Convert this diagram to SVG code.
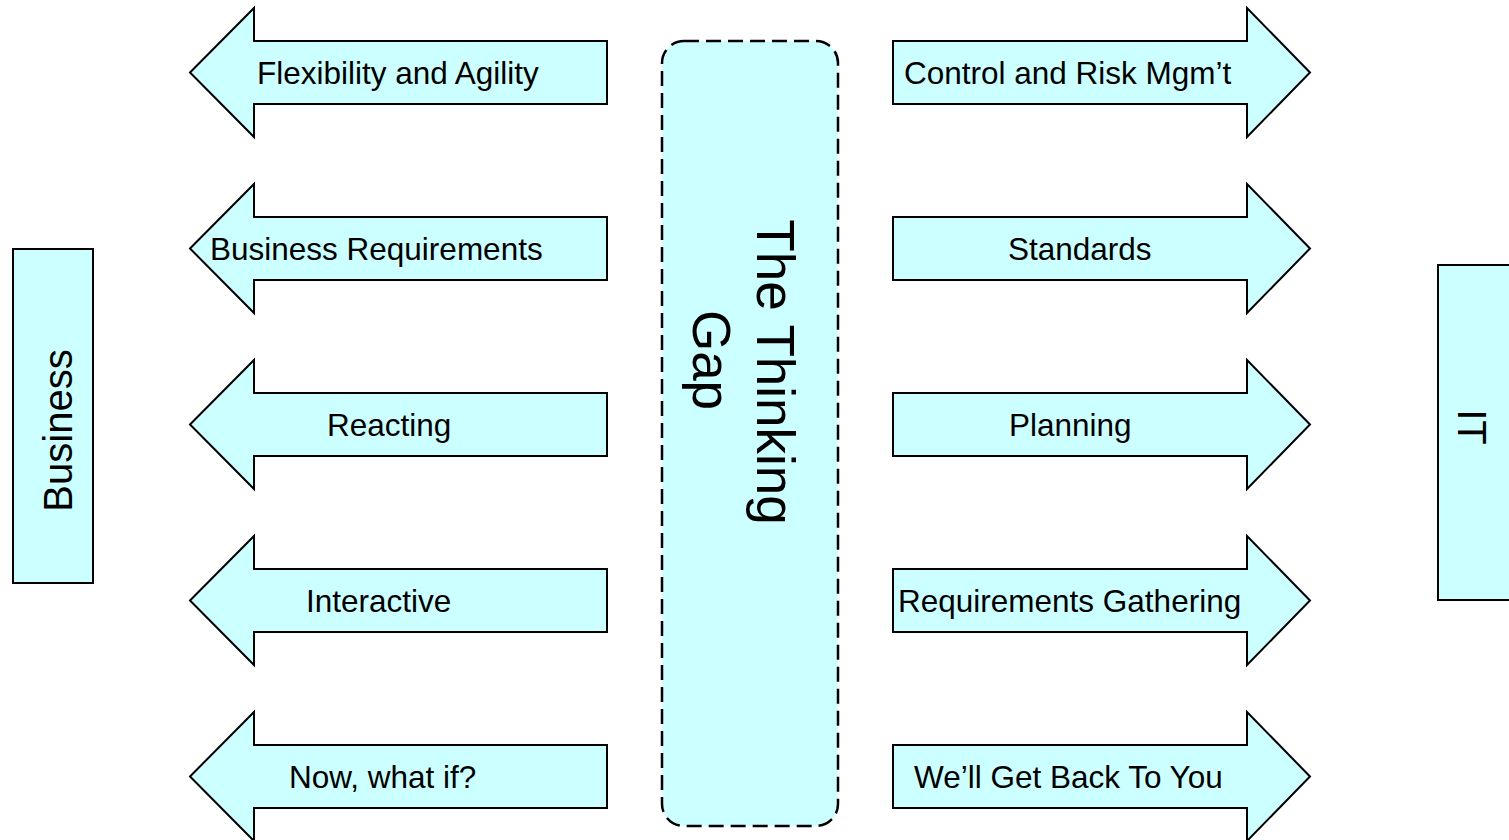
<svg xmlns="http://www.w3.org/2000/svg" width="1509" height="840" viewBox="0 0 1509 840">
<style>
.shape{fill:#CCFFFF;stroke:#000;stroke-width:2;stroke-linejoin:miter}
.gap{fill:#CCFFFF;stroke:#000;stroke-width:2.5;stroke-dasharray:15 7}
.lbl{font-family:"Liberation Sans",Arial,sans-serif;font-size:31.5px;fill:#000}
.big{font-family:"Liberation Sans",Arial,sans-serif;font-size:40px;fill:#000;text-anchor:middle}
.huge{font-family:"Liberation Sans",Arial,sans-serif;font-size:53px;fill:#000;text-anchor:middle}
</style>
<defs>
<path id="la" d="M190,0 L254,-64.5 L254,-31.5 L607,-31.5 L607,31.5 L254,31.5 L254,64.5 Z"/>
<path id="ra" d="M1310,0 L1247,-64.5 L1247,-31.5 L893,-31.5 L893,31.5 L1247,31.5 L1247,64.5 Z"/>
</defs>
<rect width="1509" height="840" fill="#fff"/>
<g id="business">
<rect class="shape" x="13" y="249" width="80" height="334"/>
<text class="big" transform="translate(72,430.5) rotate(-90)">Business</text>
</g>
<g id="it">
<rect class="shape" x="1438" y="265" width="90" height="335"/>
<text class="big" transform="translate(1458,427) rotate(90)">IT</text>
</g>
<g id="thinking-gap">
<rect class="gap" x="662" y="41" width="176" height="785" rx="22" ry="22"/>
<text class="huge" transform="translate(757,372) rotate(90)">The Thinking</text>
<text class="huge" transform="translate(693,360) rotate(90)">Gap</text>
</g>
<g id="left-arrows">
<g id="flexibility"><use href="#la" class="shape" transform="translate(0,72.5)"/><text class="lbl" x="257" y="83.5">Flexibility and Agility</text></g>
<g id="business-req"><use href="#la" class="shape" transform="translate(0,248.5)"/><text class="lbl" x="210" y="259.5">Business Requirements</text></g>
<g id="reacting"><use href="#la" class="shape" transform="translate(0,424.5)"/><text class="lbl" x="327" y="435.5">Reacting</text></g>
<g id="interactive"><use href="#la" class="shape" transform="translate(0,600.5)"/><text class="lbl" x="306" y="611.5">Interactive</text></g>
<g id="now-what-if"><use href="#la" class="shape" transform="translate(0,776.5)"/><text class="lbl" x="289" y="787.5">Now, what if?</text></g>
</g>
<g id="right-arrows">
<g id="control"><use href="#ra" class="shape" transform="translate(0,72.5)"/><text class="lbl" x="904" y="83.5">Control and Risk Mgm’t</text></g>
<g id="standards"><use href="#ra" class="shape" transform="translate(0,248.5)"/><text class="lbl" x="1008" y="259.5">Standards</text></g>
<g id="planning"><use href="#ra" class="shape" transform="translate(0,424.5)"/><text class="lbl" x="1009" y="435.5">Planning</text></g>
<g id="req-gathering"><use href="#ra" class="shape" transform="translate(0,600.5)"/><text class="lbl" x="898" y="611.5">Requirements Gathering</text></g>
<g id="get-back"><use href="#ra" class="shape" transform="translate(0,776.5)"/><text class="lbl" x="914" y="787.5">We’ll Get Back To You</text></g>
</g>
</svg>
